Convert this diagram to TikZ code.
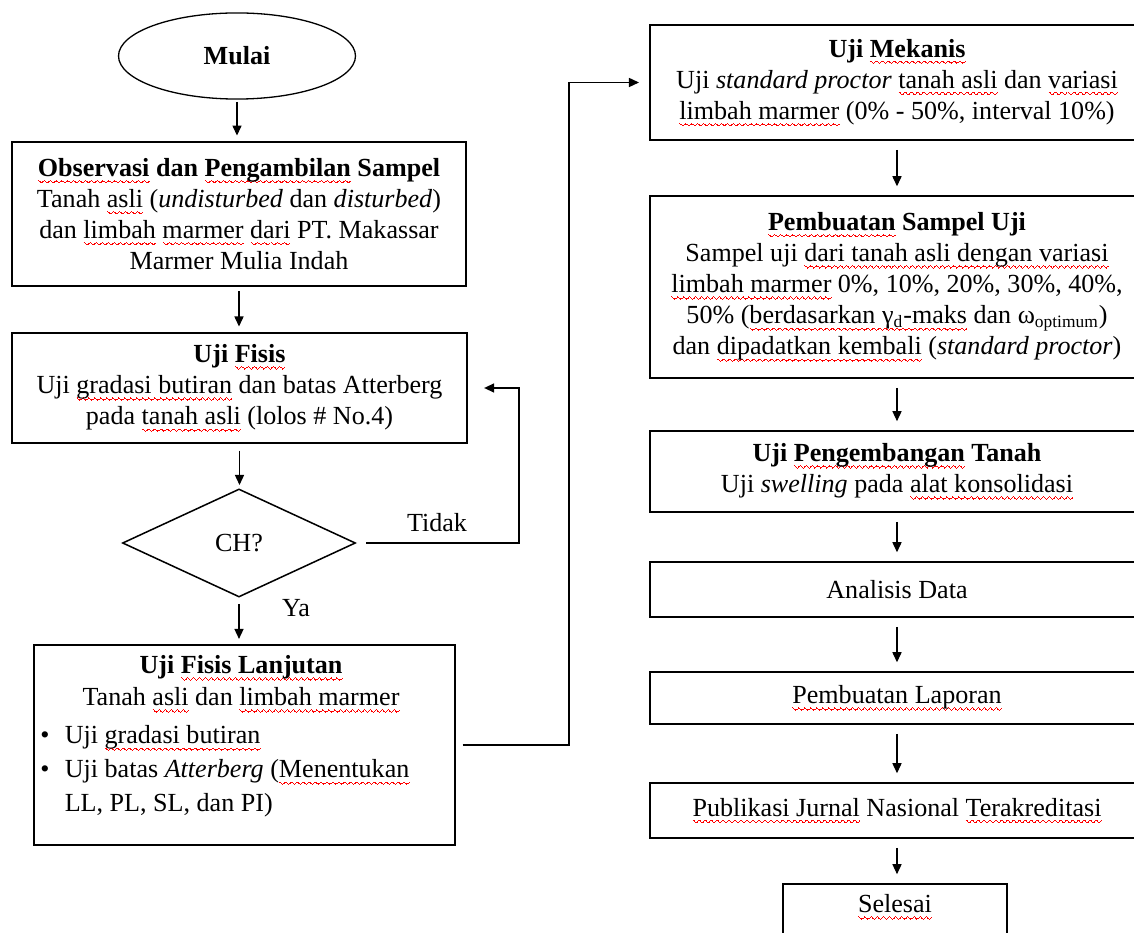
\documentclass[tikz,border=0pt]{standalone}
\usepackage{fontspec}
\setmainfont{Liberation Serif}
\usetikzlibrary{shapes.geometric,arrows.meta}
\newsavebox\wavebox
\newsavebox\wordbox
\newcommand\wseg[2]{\raise#1\hbox{\vrule width#2 height0.38pt depth0pt}}
\newcommand\rsq[1]{\sbox\wordbox{#1}\rlap{\lower2.6pt\hbox to \wd\wordbox{\xleaders\copy\wavebox\hfil}}\usebox\wordbox}
\begin{document}
\sbox\wavebox{\color{red}\wseg{0.5pt}{0.45pt}\wseg{0.25pt}{0.3pt}\wseg{0pt}{0.3pt}\wseg{-0.25pt}{0.3pt}\wseg{-0.5pt}{0.45pt}\wseg{-0.25pt}{0.3pt}\wseg{0pt}{0.3pt}\wseg{0.25pt}{0.3pt}}%
\begin{tikzpicture}[x=0.46pt,y=-0.46pt,
  font=\fontsize{12}{14.3}\selectfont,
  box/.style={draw, line width=1pt, align=center, inner sep=0pt},
  rbox/.style={box, minimum width=227.2pt},
  arr/.style={-{Triangle[length=4.6pt,width=4.2pt]}, line width=0.5pt},
  larr/.style={arr, shorten <=2pt, shorten >=2.5pt},
  rarr/.style={arr, shorten <=4pt, shorten >=4pt}]
\useasboundingbox (0,0) rectangle (1134,933);
\clip (0,0) rectangle (1134,933);

% left column
\node[draw, ellipse, line width=0.6pt, minimum width=109pt, minimum height=39.6pt, inner sep=0pt, font=\fontsize{12}{14.3}\selectfont\bfseries] (mulai) at (237,56) {Mulai};
\node[box, minimum width=208.8pt, minimum height=66.2pt] (obs) at (239,214)
  {\textbf{\rsq{Observasi} dan \rsq{Pengambilan} Sampel}\\
   Tanah \rsq{asli} (\textit{undisturbed} dan \textit{disturbed})\\
   dan \rsq{limbah} \rsq{marmer} \rsq{dari} PT. Makassar\\
   Marmer Mulia Indah};
\node[box, minimum width=209.3pt, minimum height=50.6pt] (fis) at (239.5,388)
  {\textbf{Uji \rsq{Fisis}}\\
   Uji \rsq{gradasi butiran} dan batas Atterberg\\
   pada \rsq{tanah asli} (lolos \# No.4)};
\node[draw, diamond, aspect=2.157, minimum width=107.2pt, minimum height=49.7pt, inner sep=0pt, line width=0.7pt] (ch) at (239,543) {CH?};
\node[box, minimum width=193.6pt, minimum height=92pt] (lanj) at (244.5,745) {};
\node[font=\fontsize{12}{14.3}\selectfont\bfseries] (lanjA) at (241,668) {Uji \rsq{Fisis Lanjutan}};
\node (lanjB) at (241,700) {Tanah \rsq{asli} dan \rsq{limbah marmer}};
\node[anchor=west, inner sep=0pt, font=\fontsize{12}{15.6}\selectfont] (lanjC) at (40,771)
  {\begin{tabular}{@{}l@{\hspace{7pt}}l@{}}
   \textbullet & Uji \rsq{gradasi butiran}\\
   \textbullet & Uji batas \textit{Atterberg} (\rsq{Menentukan}\\
   & LL, PL, SL, dan PI)
   \end{tabular}};
\node (tidak) at (437,523) {Tidak};
\node (ya) at (296,608) {Ya};

% right column
\node[rbox, minimum height=52.9pt] (mek) at (897,82.5)
  {\textbf{Uji \rsq{Mekanis}}\\
   Uji \textit{standard proctor} \rsq{tanah asli} dan \rsq{variasi}\\
   \rsq{limbah marmer} (0\% - 50\%, interval 10\%)};
\node[rbox, minimum height=83.7pt] (samp) at (897,287)
  {\textbf{\rsq{Pembuatan} Sampel Uji}\\
   Sampel uji \rsq{dari tanah asli dengan variasi}\\
   \rsq{limbah marmer} 0\%, 10\%, 20\%, 30\%, 40\%,\\
   50\% (\rsq{berdasarkan γ\textsubscript{d}-maks} dan ω\textsubscript{optimum})\\
   dan \rsq{dipadatkan kembali} (\textit{standard proctor})};
\node[rbox, minimum height=37.3pt] (kemb) at (897,471.5)
  {\textbf{Uji \rsq{Pengembangan} Tanah}\\
   Uji \textit{swelling} pada \rsq{alat konsolidasi}};
\node[rbox, minimum height=25.3pt] (anal) at (897,589.5) {Analisis Data};
\node[rbox, minimum height=23.9pt] (lap) at (897,698) {\rsq{Pembuatan Laporan}};
\node[rbox, minimum height=25.3pt] (pub) at (897,810.5) {\rsq{Publikasi Jurnal} Nasional \rsq{Terakreditasi}};
\node[box, minimum width=103pt, minimum height=25.8pt] (sel) at (895,912) {};
\node (selT) at (895,907) {\rsq{Selesai}};

% connectors
\draw[larr, shorten <=1pt] (mulai.south) -- (mulai.south |- obs.north);
\draw[larr] (obs.south) -- (obs.south |- fis.north);
\draw[larr, shorten <=3pt, shorten >=1.5pt] (fis.south) -- (fis.south |- ch.north);
\draw[larr, shorten <=2.8pt, shorten >=2.3pt] (ch.south) -- (ch.south |- lanj.north);

\coordinate (lp) at (519,543);
\draw[arr, shorten <=4.6pt, shorten >=7.4pt] (ch.east) -- (lp) |- (fis.east);
\coordinate (rp) at (569,745);
\draw[arr, shorten <=3pt, shorten >=4.6pt] (lanj.east) -- (rp) |- (mek.west);

\draw[rarr] (mek.south) -- (samp.north);
\draw[rarr] (samp.south) -- (kemb.north);
\draw[rarr] (kemb.south) -- (anal.north);
\draw[rarr] (anal.south) -- (lap.north);
\draw[rarr] (lap.south) -- (pub.north);
\draw[rarr] (pub.south) -- (pub.south |- sel.north);
\end{tikzpicture}
\end{document}
